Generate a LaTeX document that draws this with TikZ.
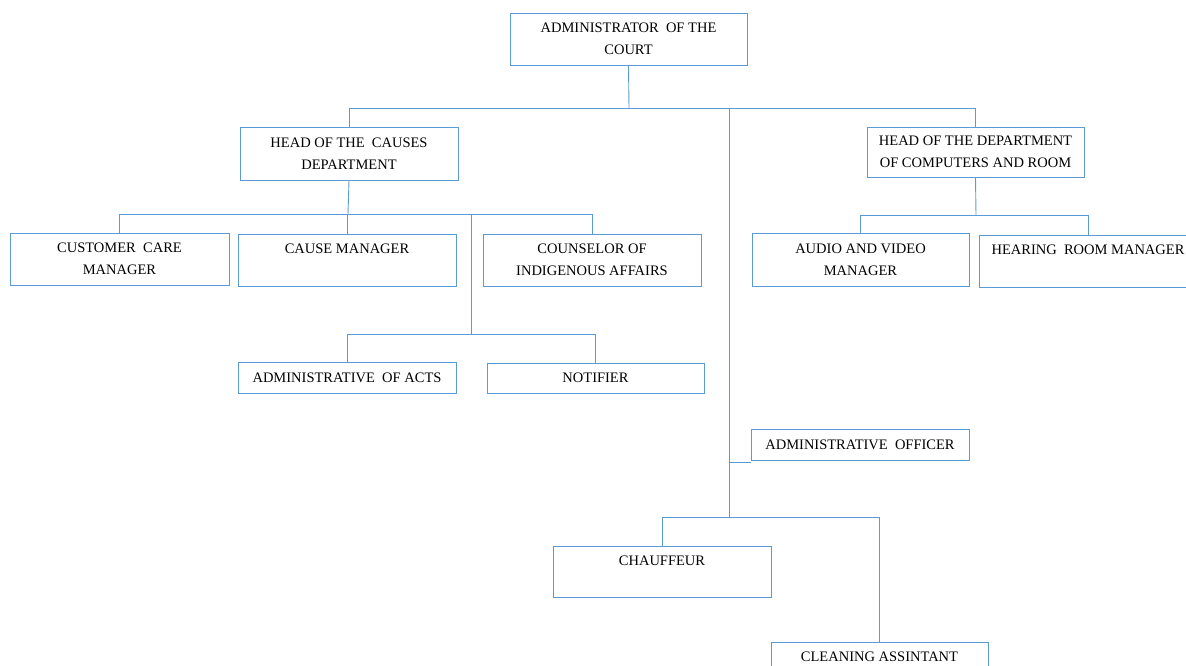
\documentclass[tikz,border=0pt]{standalone}
\usepackage{fontspec}
\setmainfont{Liberation Serif}
\definecolor{orgblue}{RGB}{91,155,213}
\tikzset{
  unit/.style={draw=orgblue, line width=0.9pt, minimum width=218pt, minimum height=52pt,
    inner sep=0pt, align=center, font=\fontsize{14.5}{22}\selectfont, text=black},
  slim/.style={unit, minimum height=31pt},
  link/.style={draw=orgblue, line width=0.9pt},
}
\begin{document}
\begin{tikzpicture}[x=1pt,y=-1pt]
\clip (0,0) rectangle (1186,666);

% boxes
\node[unit, minimum width=237pt] (court) at (628.5,39) {ADMINISTRATOR\ \ OF THE\\COURT};
\node[unit, minimum height=53pt] (causes) at (349,153.5) {HEAD OF THE\ \ CAUSES\\DEPARTMENT};
\node[unit, minimum width=217pt, minimum height=50pt] (computers) at (975.5,152) {HEAD OF THE DEPARTMENT\\OF COMPUTERS AND ROOM};

\node[unit, minimum width=219pt] (custcare) at (119.5,259) {CUSTOMER\ \ CARE\\MANAGER};
\node[unit] (causemgr) at (347,260) {CAUSE MANAGER\\\mbox{}};
\node[unit] (counselor) at (592,260) {COUNSELOR OF\\INDIGENOUS AFFAIRS};

\node[slim] (acts) at (347,377.5) {ADMINISTRATIVE\ \ OF ACTS};
\node[slim, minimum width=217pt, minimum height=30pt] (notifier) at (595.5,378) {NOTIFIER};

\node[unit, minimum width=217pt, minimum height=53pt] (audio) at (860.5,259.5) {AUDIO AND VIDEO\\MANAGER};
\node[unit] (hearing) at (1088,261) {HEARING\ \ ROOM MANAGER\\\mbox{}};

\node[slim] (officer) at (860,444.5) {ADMINISTRATIVE\ \ OFFICER};
\node[unit, minimum height=51pt] (chauffeur) at (662,571.5) {CHAUFFEUR\\\mbox{}};
\node[unit, minimum width=217pt] (cleaning) at (879.5,668) {CLEANING ASSINTANT\\\mbox{}};

% junction points of the connector buses
\coordinate (topbus) at (629,108);
\coordinate (trunktop) at (729,108);
\coordinate (trunkbot) at (729,517);
\coordinate (causesbus) at (348,214);
\coordinate (subtrunk) at (471,214);
\coordinate (subbus) at (471,334);
\coordinate (compbus) at (976,215);

% top level
\draw[link] (court.south) -- (topbus);
\draw[link] (causes.north) |- (topbus);
\draw[link] (computers.north) |- (topbus);
\draw[link] (trunktop) -- (trunkbot);

% causes department
\draw[link] (causes.south) -- (causesbus);
\draw[link] (custcare.north) |- (causesbus);
\draw[link] (causemgr.north) |- (causesbus);
\draw[link] (counselor.north) |- (causesbus);
\draw[link] (subtrunk) -- (subbus);
\draw[link] (acts.north) |- (subbus);
\draw[link] (notifier.north) |- (subbus);

% computers and room
\draw[link] (computers.south) -- (compbus);
\draw[link] (audio.north) |- (compbus);
\draw[link] (hearing.north) |- (compbus);

% administrative officer branch
\draw[link] ([yshift=-2pt]officer.south west) -- ([yshift=-2pt]officer.south west -| trunktop);
\draw[link] (chauffeur.north) |- (trunkbot);
\draw[link] (cleaning.north) |- (trunkbot);
\end{tikzpicture}
\end{document}
